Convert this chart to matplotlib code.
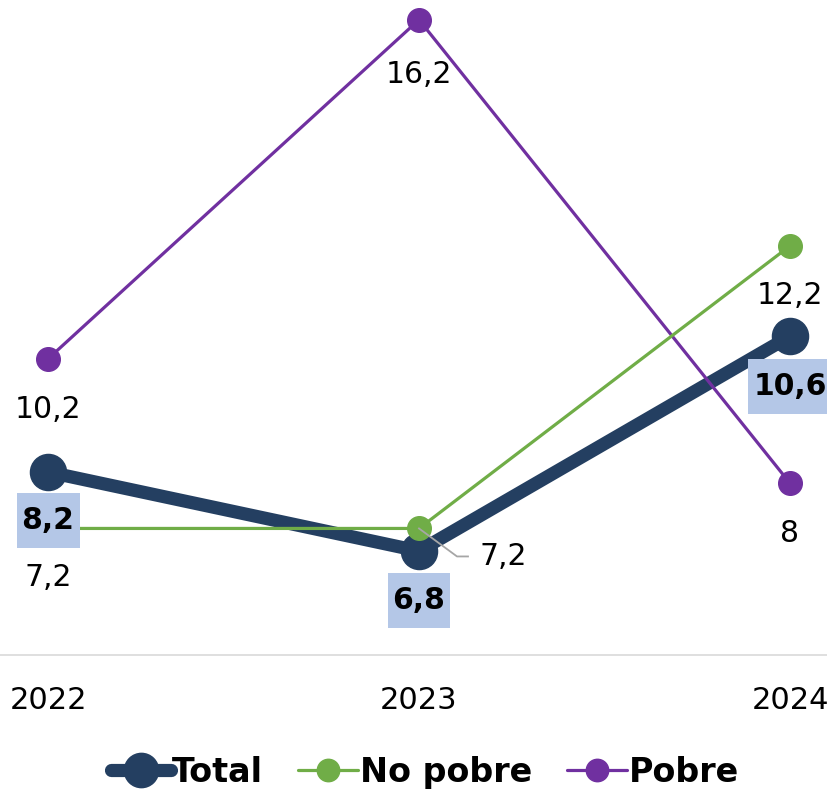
import matplotlib.pyplot as plt
from matplotlib.lines import Line2D
from matplotlib.patches import Rectangle
from matplotlib.transforms import IdentityTransform

years = ['2022', '2023', '2024']
total = [8.2, 6.8, 10.6]
no_pobre = [7.2, 7.2, 12.2]
pobre = [10.2, 16.2, 8.0]

total_labels = ['8,2', '6,8', '10,6']
no_pobre_labels = ['7,2', '7,2', '12,2']
pobre_labels = ['10,2', '16,2', '8']

c_total = '#243F61'
c_green = '#70AD47'
c_purple = '#7030A0'
c_box = '#B4C7E7'

fig = plt.figure(figsize=(8.28, 7.94), dpi=100)
ax = fig.add_axes([0, 0.175, 1, 0.825])
x = list(range(len(years)))

ax.plot(x, pobre, color=c_purple, lw=2.3, marker='o', ms=17, label='Pobre',
        zorder=3, solid_capstyle='round')
ax.plot(x, no_pobre, color=c_green, lw=2.3, marker='o', ms=17, label='No pobre',
        zorder=4, solid_capstyle='round')
ax.plot(x, total, color=c_total, lw=9.5, marker='o', ms=26, label='Total',
        zorder=2, solid_capstyle='round')

ax.set_xlim(-48 / 371, 2 + 38 / 371)
ax.set_ylim(4.96, 16.55)
for s in ['top', 'right', 'left']:
    ax.spines[s].set_visible(False)
ax.spines['bottom'].set_color('#D9D9D9')
ax.spines['bottom'].set_linewidth(1.2)
ax.set_yticks([])
ax.set_xticks(x)
ax.set_xticklabels(years, fontsize=22, family='DejaVu Sans')
ax.tick_params(axis='x', length=0, pad=22)

font = dict(fontsize=21.5, family='DejaVu Sans', ha='center', va='center')

# Pobre labels
pobre_off = [(0, -51), (0, -55), (0, -50)]
for i in x:
    ax.annotate(pobre_labels[i], (i, pobre[i]), xytext=pobre_off[i],
                textcoords='offset pixels', **font)

# No pobre labels
ax.annotate(no_pobre_labels[0], (0, no_pobre[0]), xytext=(0, -49),
            textcoords='offset pixels', **font)
ax.annotate(no_pobre_labels[2], (2, no_pobre[2]), xytext=(0, -50),
            textcoords='offset pixels', **font)
ax.annotate(no_pobre_labels[1], (1, no_pobre[1]), xytext=(84, -28),
            textcoords='offset pixels', **font)

# leader line for the 2023 No pobre label
px, py = ax.transData.transform((1, no_pobre[1]))
ax.add_artist(Line2D([px, px + 38, px + 49], [py, py - 28, py - 28],
                     color='#A6A6A6', lw=1.3, transform=IdentityTransform(), zorder=5))

# Total labels with light blue boxes
total_off = [(0, -49), (0, -49), (0, -50)]
total_texts = []
for i in x:
    t = ax.annotate(total_labels[i], (i, total[i]), xytext=total_off[i],
                    textcoords='offset pixels', fontweight='bold', zorder=7, **font)
    total_texts.append(t)

fig.canvas.draw()
for t in total_texts:
    bb = t.get_window_extent()
    cx, cy = (bb.x0 + bb.x1) / 2, (bb.y0 + bb.y1) / 2
    w, hgt = bb.width + 10, 55
    ax.add_patch(Rectangle((cx - w / 2, cy - hgt / 2), w, hgt, fc=c_box, ec='none',
                           transform=IdentityTransform(), zorder=6, clip_on=False))

h, l = ax.get_legend_handles_labels()
order = [2, 1, 0]
leg = fig.legend([h[i] for i in order], [l[i] for i in order], loc='center',
                 bbox_to_anchor=(0.513, 0.027), ncol=3, frameon=False,
                 prop={'family': 'DejaVu Sans', 'weight': 'bold', 'size': 24},
                 handlelength=1.8, handletextpad=0.05, columnspacing=1.05, markerscale=0.95)

fig.savefig('out.png', dpi=100)
